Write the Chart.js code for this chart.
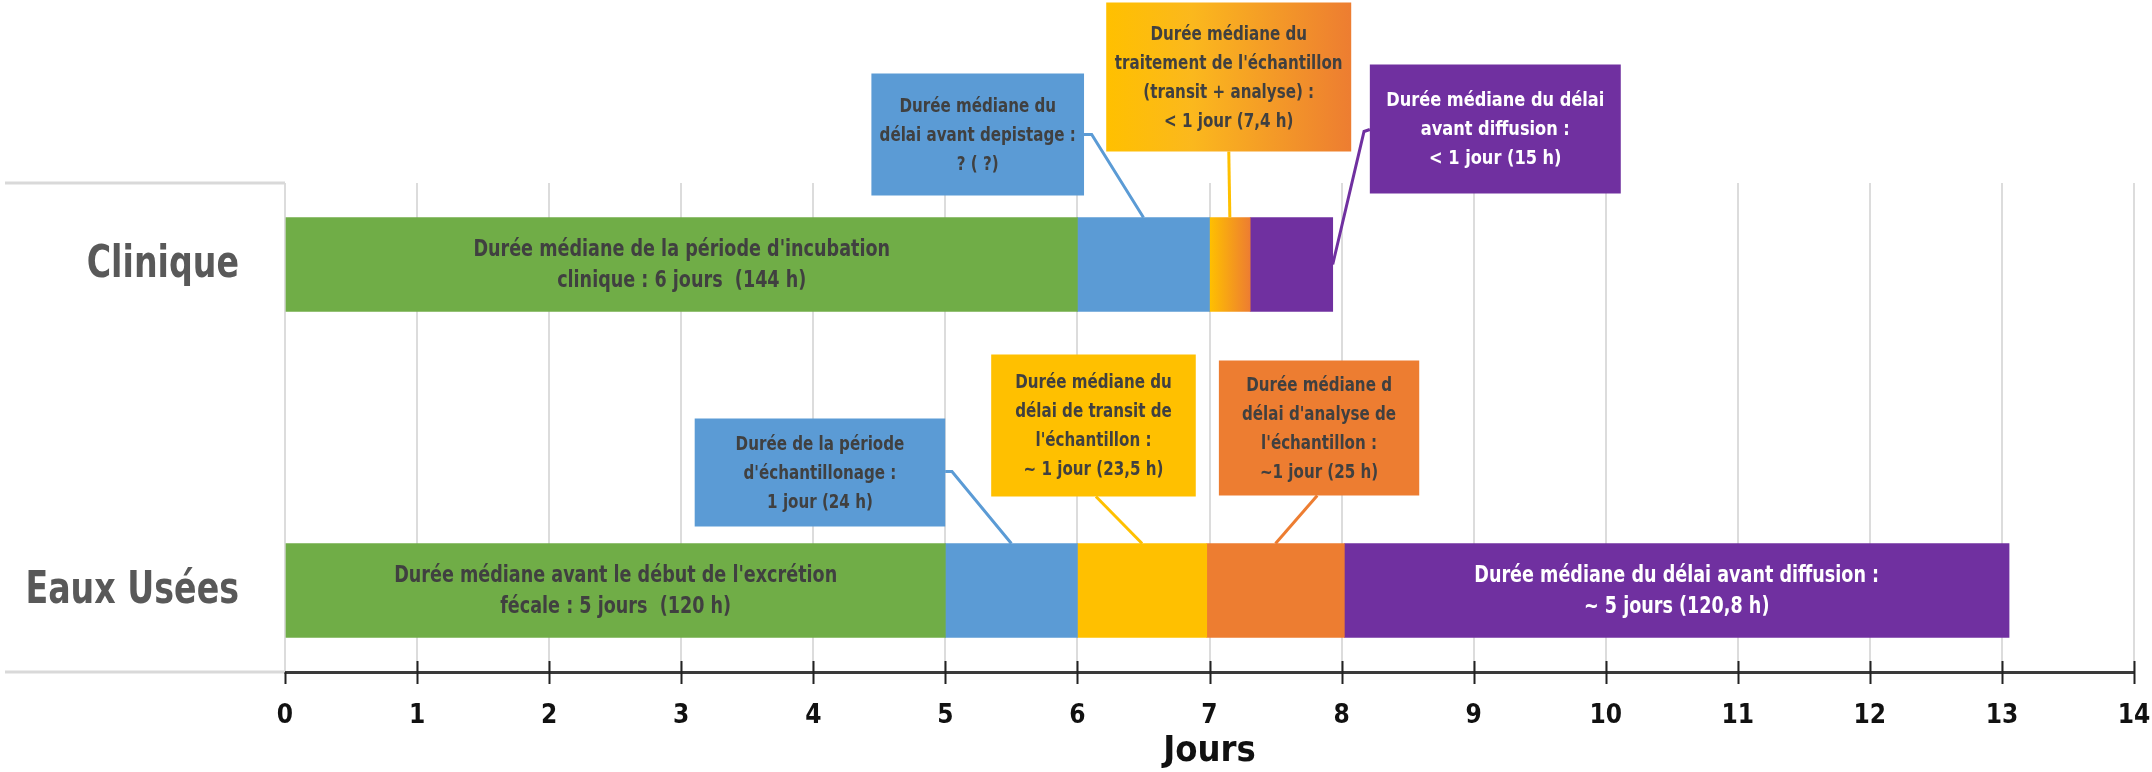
<!DOCTYPE html>
<html>
<head>
<meta charset="utf-8">
<script src="https://cdn.jsdelivr.net/npm/chart.js@4.4.0/dist/chart.umd.min.js"></script>
<style>
html,body{margin:0;padding:0;background:#ffffff;}
#wrap{width:2152px;height:772px;}
</style>
</head>
<body>
<div id="wrap"><canvas id="c" width="2152" height="772"></canvas></div>
<script>
// ---------- DATA (durations in days) ----------
const categories = ['Clinique', '', 'Eaux Usées'];
const xTickValues = [0, 1, 2, 3, 4, 5, 6, 7, 8, 9, 10, 11, 12, 13, 14];
const axisTitle = 'Jours';

const greenDays  = [6, null, 5];          // 144 h / 120 h
const blueDays   = [1, null, 1];          // ? / 24 h
const yellowDays = [0.308, null, 0.979];  // 7,4 h / 23,5 h
const orangeDays = [null, null, 1.042];   // 25 h
const purpleDays = [0.625, null, 5.033];  // 15 h / 120,8 h

const greenLabels = [
  ["Durée médiane de la période d'incubation", "clinique : 6 jours  (144 h)"],
  null,
  ["Durée médiane avant le début de l'excrétion", "fécale : 5 jours  (120 h)"]
];
const purpleLabels = [null, null, ["Durée médiane du délai avant diffusion :", "~ 5 jours (120,8 h)"]];

const calloutTexts = [
  ["Durée médiane du", "délai avant depistage :", "? ( ?)"],
  ["Durée médiane du", "traitement de l'échantillon", "(transit + analyse) :", "< 1 jour (7,4 h)"],
  ["Durée médiane du délai", "avant diffusion :", "< 1 jour (15 h)"],
  ["Durée de la période", "d'échantillonage :", "1 jour (24 h)"],
  ["Durée médiane du", "délai de transit de", "l'échantillon :", "~ 1 jour (23,5 h)"],
  ["Durée médiane d", "délai d'analyse de", "l'échantillon :", "~1 jour (25 h)"]
];

// ---------- STYLE / LAYOUT ----------
const FONT = '"DejaVu Sans Condensed","DejaVu Sans","Roboto",sans-serif';
const C_GREEN = '#70AD47', C_BLUE = '#5B9BD5', C_YELLOW = '#FFC000', C_ORANGE = '#ED7D31', C_PURPLE = '#7030A0';
const TXT_DARK = '#404040';

// callout layout: box x in axis units (days), y offsets in px relative to bar top
const calloutLayout = [
  {ds:1, idx:0, x0:4.44, x1:6.05, dy0:-144, dy1:-22, fill:C_BLUE, text:TXT_DARK, line:C_BLUE, sx:0.84,
   path:[[6.05,-83],[6.108,-83]], end:'top'},
  {ds:2, idx:0, x0:6.218, x1:8.073, dy0:-215, dy1:-66, fill:'gradient', text:TXT_DARK, line:C_YELLOW, sx:0.84,
   path:[[7.146,-66]], end:'top'},
  {ds:4, idx:0, x0:8.214, x1:10.114, dy0:-153, dy1:-24, fill:C_PURPLE, text:'#ffffff', line:C_PURPLE, sx:0.9,
   path:[[8.214,-88],[8.17,-86]], end:'right'},
  {ds:1, idx:2, x0:3.102, x1:4.999, dy0:-125, dy1:-17, fill:C_BLUE, text:TXT_DARK, line:C_BLUE, sx:0.84,
   path:[[4.999,-72],[5.05,-72]], end:'top'},
  {ds:2, idx:2, x0:5.347, x1:6.896, dy0:-189, dy1:-47, fill:C_YELLOW, text:TXT_DARK, line:C_YELLOW, sx:0.84,
   path:[[6.14,-47]], end:'top'},
  {ds:3, idx:2, x0:7.071, x1:8.588, dy0:-183, dy1:-48, fill:C_ORANGE, text:TXT_DARK, line:C_ORANGE, sx:0.84,
   path:[[7.816,-48]], end:'top'}
];

// draw horizontally condensed text (the original uses a narrow typeface)
function narrowText(ctx, text, x, y, sx) {
  ctx.save();
  ctx.translate(x, y);
  ctx.scale(sx, 1);
  ctx.fillText(text, 0, 0);
  ctx.restore();
}

function stackStart(chart, dsIndex, idx) {
  let s = 0;
  for (let d = 0; d < dsIndex; d++) {
    const v = chart.data.datasets[d].data[idx];
    if (v) s += v;
  }
  return s;
}

function yellowFill(ctx) {
  if (ctx.type !== 'data' || ctx.dataIndex !== 0) return C_YELLOW;
  const chart = ctx.chart;
  const xs = chart.scales && chart.scales.x;
  if (!xs || !chart.chartArea) return C_YELLOW;
  const s = stackStart(chart, ctx.datasetIndex, 0);
  const v = ctx.raw || 0;
  const a = xs.getPixelForValue(s), b = xs.getPixelForValue(s + v);
  const g = chart.ctx.createLinearGradient(a, 0, b, 0);
  g.addColorStop(0, C_YELLOW);
  g.addColorStop(1, C_ORANGE);
  return g;
}

const decorPlugin = {
  id: 'decor',
  beforeDatasetsDraw(chart) {
    const {ctx, chartArea} = chart;
    ctx.save();
    ctx.strokeStyle = '#d9d9d9';
    ctx.lineWidth = 3;
    ctx.beginPath();
    ctx.moveTo(5, chartArea.top); ctx.lineTo(chartArea.left, chartArea.top);
    ctx.moveTo(5, chartArea.bottom); ctx.lineTo(chartArea.left, chartArea.bottom);
    ctx.stroke();
    ctx.restore();
  },
  afterDraw(chart) {
    const {ctx, chartArea} = chart;
    const xs = chart.scales.x, ys = chart.scales.y;
    // tick marks across the axis
    ctx.save();
    ctx.strokeStyle = '#222';
    ctx.lineWidth = 2;
    ctx.beginPath();
    xs.ticks.forEach((t, i) => {
      const px = Math.round(xs.getPixelForValue(t.value)) + 0.5;
      ctx.moveTo(px, i === 0 ? chartArea.bottom : chartArea.bottom - 11);
      ctx.lineTo(px, chartArea.bottom + 12);
    });
    ctx.stroke();
    ctx.restore();

    // category labels (y axis)
    ctx.save();
    ctx.fillStyle = '#595959';
    ctx.font = 'bold 44px ' + FONT;
    ctx.textAlign = 'right';
    ctx.textBaseline = 'middle';
    categories.forEach((lab, i) => {
      if (!lab) return;
      narrowText(ctx, lab, chartArea.left - 46, ys.getPixelForValue(i) + 1, 0.84);
    });
    ctx.restore();

    // in-bar labels
    const drawLabels = (dsIndex, labels, color, size) => {
      const meta = chart.getDatasetMeta(dsIndex);
      meta.data.forEach((el, i) => {
        const lines = labels[i];
        if (!lines) return;
        const cx = (el.x + el.base) / 2;
        ctx.save();
        ctx.fillStyle = color;
        ctx.font = 'bold ' + size + 'px ' + FONT;
        ctx.textAlign = 'center';
        ctx.textBaseline = 'middle';
        const lh = 31;
        const y0 = el.y + 1 - (lines.length - 1) * lh / 2;
        lines.forEach((l, k) => narrowText(ctx, l, cx, y0 + k * lh, 0.85));
        ctx.restore();
      });
    };
    drawLabels(0, greenLabels, TXT_DARK, 23);
    drawLabels(4, purpleLabels, '#ffffff', 23);

    // callouts
    calloutLayout.forEach((c, n) => {
      const el = chart.getDatasetMeta(c.ds).data[c.idx];
      const top = el.y - el.height / 2;
      const bx0 = xs.getPixelForValue(c.x0), bx1 = xs.getPixelForValue(c.x1);
      const by0 = top + c.dy0, by1 = top + c.dy1;
      // leader line
      ctx.save();
      ctx.strokeStyle = c.line;
      ctx.lineWidth = 3;
      ctx.beginPath();
      c.path.forEach((p, k) => {
        const px = xs.getPixelForValue(p[0]), py = top + p[1];
        if (k === 0) ctx.moveTo(px, py); else ctx.lineTo(px, py);
      });
      if (c.end === 'top') ctx.lineTo((el.x + el.base) / 2, top);
      else ctx.lineTo(el.x, el.y);
      ctx.stroke();
      // box
      let fill = c.fill;
      if (fill === 'gradient') {
        const g = ctx.createLinearGradient(bx0, 0, bx1, 0);
        g.addColorStop(0, C_YELLOW);
        g.addColorStop(0.35, '#FBB81D');
        g.addColorStop(1, C_ORANGE);
        fill = g;
      }
      ctx.fillStyle = fill;
      ctx.fillRect(bx0, by0, bx1 - bx0, by1 - by0);
      // text
      const lines = calloutTexts[n];
      ctx.fillStyle = c.text;
      ctx.font = 'bold 20px ' + FONT;
      ctx.textAlign = 'center';
      ctx.textBaseline = 'middle';
      const lh = 29;
      const cy = (by0 + by1) / 2 + 1;
      const y0 = cy - (lines.length - 1) * lh / 2;
      lines.forEach((l, k) => narrowText(ctx, l, (bx0 + bx1) / 2, y0 + k * lh, c.sx));
      ctx.restore();
    });
  }
};

const chart = new Chart(document.getElementById('c'), {
  type: 'bar',
  data: {
    labels: categories,
    datasets: [
      {label: 'Incubation / excrétion', data: greenDays, backgroundColor: C_GREEN},
      {label: 'Dépistage / échantillonnage', data: blueDays, backgroundColor: C_BLUE},
      {label: 'Traitement / transit', data: yellowDays, backgroundColor: yellowFill},
      {label: 'Analyse', data: orangeDays, backgroundColor: C_ORANGE},
      {label: 'Diffusion', data: purpleDays, backgroundColor: C_PURPLE}
    ]
  },
  options: {
    indexAxis: 'y',
    responsive: false,
    devicePixelRatio: 1,
    animation: false,
    events: [],
    layout: {padding: {left: 0, right: 18, top: 183, bottom: 0}},
    datasets: {bar: {barThickness: 94, borderWidth: 0}},
    plugins: {legend: {display: false}, tooltip: {enabled: false}},
    scales: {
      x: {
        type: 'linear', stacked: true, min: 0, max: 14,
        afterFit: s => { s.height = 100; s.paddingRight = 0; s.paddingLeft = 0; },
        afterBuildTicks: s => { s.ticks = xTickValues.map(v => ({value: v})); },
        ticks: {stepSize: 1, color: '#111', padding: 29, font: {family: FONT, size: 26, weight: 'bold'}},
        grid: {color: '#dcdcdc', lineWidth: 2, drawTicks: false},
        border: {display: true, color: '#3a3a3a', width: 3},
        title: {display: true, text: axisTitle, color: '#111', padding: {top: 0, bottom: 2},
                font: {family: FONT, size: 36, weight: 'bold', lineHeight: 1}}
      },
      y: {
        type: 'category', stacked: true, offset: true,
        afterFit: s => { s.width = 285; },
        ticks: {display: false},
        grid: {display: false, drawTicks: false},
        border: {display: false}
      }
    }
  },
  plugins: [decorPlugin]
});
</script>
</body>
</html>
